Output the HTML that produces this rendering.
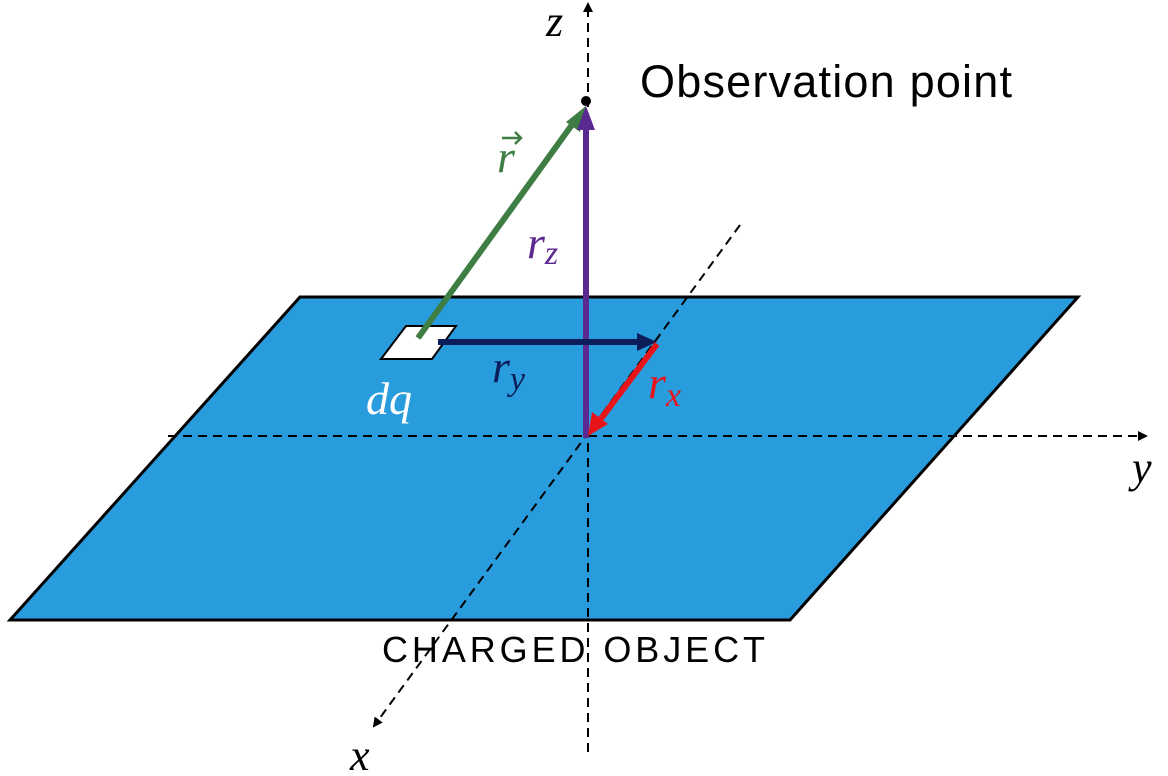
<!DOCTYPE html>
<html><head><meta charset="utf-8"><style>
html,body{margin:0;padding:0;background:#fff;}
svg{display:block;}
.m{font-family:"Liberation Serif",serif;font-style:italic;}
</style></head><body>
<svg width="1168" height="776" viewBox="0 0 1168 776">
<defs>
<marker id="ah" markerWidth="10" markerHeight="10" refX="8" refY="5" orient="auto" markerUnits="userSpaceOnUse"><path d="M0,0 L10,5 L0,10 z" fill="#000"/></marker>
</defs>
<polygon points="300,297 1078,297 790,620 10,620" fill="#299cdd" stroke="#000" stroke-width="3"/>
<line x1="168" y1="436" x2="1146" y2="436" stroke="#000" stroke-width="2" stroke-dasharray="9,6" marker-end="url(#ah)"/>
<line x1="588" y1="752" x2="588" y2="4" stroke="#000" stroke-width="2" stroke-dasharray="9,6" marker-end="url(#ah)"/>
<line x1="740" y1="225" x2="374" y2="726" stroke="#000" stroke-width="2" stroke-dasharray="9,6" marker-end="url(#ah)"/>
<polygon points="381,359 406,326 456,326 432,359" fill="#fff" stroke="#000" stroke-width="2"/>
<g>
<line x1="418" y1="338" x2="574" y2="122" stroke="#3e7d43" stroke-width="6"/>
<polygon points="586,106 580,132 566,122" fill="#3e7d43"/>
</g>
<g>
<line x1="586" y1="438" x2="586" y2="126" stroke="#5b2a91" stroke-width="6"/>
<polygon points="586,106 577,130 595,130" fill="#5b2a91"/>
</g>
<g>
<line x1="438" y1="342" x2="640" y2="342" stroke="#0c1e5a" stroke-width="6"/>
<polygon points="657,342 637,333 637,351" fill="#0c1e5a"/>
</g>
<g>
<line x1="657" y1="344" x2="600" y2="420" stroke="#e8141a" stroke-width="6"/>
<polygon points="588,436 592,412 608,424" fill="#e8141a"/>
</g>
<circle cx="586" cy="101" r="5" fill="#000"/>
<text x="640" y="97" font-family="Liberation Sans, sans-serif" font-size="45" textLength="372" fill="#000">Observation point</text>
<text x="382" y="662" font-family="Liberation Sans, sans-serif" font-size="36" textLength="383" fill="#000">CHARGED OBJECT</text>
<text class="m" x="546" y="36" font-size="44">z</text>
<text class="m" x="1132" y="482" font-size="44">y</text>
<text class="m" x="350" y="770" font-size="44">x</text>
<g fill="#3e7d43">
<text class="m" x="497" y="172" font-size="46">r</text>
<path d="M502,138 L521,138 M515,132 L521,138 L515,144" stroke="#3e7d43" stroke-width="2.5" fill="none"/>
</g>
<text class="m" x="527" y="258" font-size="46" fill="#5b2a91">r<tspan font-size="34" dy="6">z</tspan></text>
<text class="m" x="492" y="382" font-size="46" fill="#0c1e5a">r<tspan font-size="34" dy="8">y</tspan></text>
<text class="m" x="648" y="398" font-size="46" fill="#e8141a">r<tspan font-size="34" dy="8">x</tspan></text>
<text class="m" x="366" y="414" font-size="46" fill="#fff">dq</text>
</svg>
</body></html>
